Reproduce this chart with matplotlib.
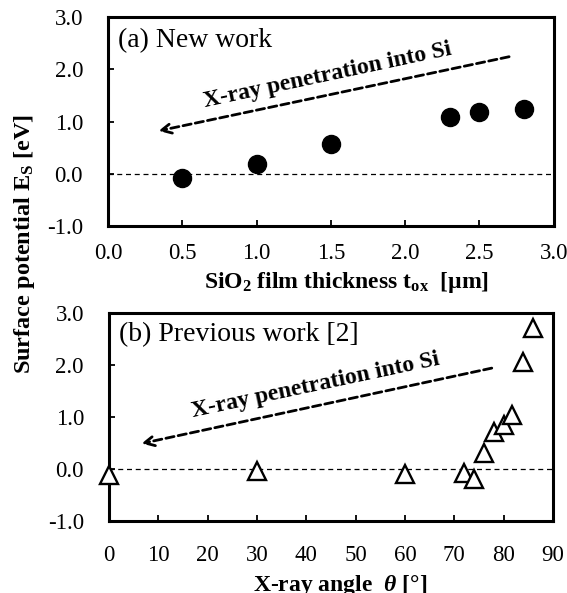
import matplotlib
matplotlib.use("Agg")
import matplotlib.pyplot as plt

plt.rcParams['font.family'] = ['Liberation Serif', 'DejaVu Serif']
plt.rcParams['mathtext.fontset'] = 'custom'
plt.rcParams['mathtext.rm'] = 'Liberation Serif:bold'
plt.rcParams['mathtext.it'] = 'Liberation Serif:bold:italic'
plt.rcParams['mathtext.bf'] = 'Liberation Serif:bold'

# (a) new work: SiO2 thickness vs surface potential
tox = [0.5, 1.0, 1.5, 2.3, 2.5, 2.8]
es_new = [-0.09, 0.18, 0.56, 1.09, 1.18, 1.23]

# (b) previous work [2]: x-ray angle vs surface potential
theta = [0, 30, 60, 72, 74, 76, 78, 80, 81.7, 84, 86]
es_prev = [-0.12, -0.04, -0.1, -0.07, -0.19, 0.31, 0.71, 0.85, 1.03, 2.05, 2.72]

yticks = [-1.0, 0.0, 1.0, 2.0, 3.0]
ytick_labels = ['-1.0', '0.0', '1.0', '2.0', '3.0']
xticks_a = [0.0, 0.5, 1.0, 1.5, 2.0, 2.5, 3.0]
xtick_labels_a = ['0.0', '0.5', '1.0', '1.5', '2.0', '2.5', '3.0']
xticks_b = [0, 10, 20, 30, 40, 50, 60, 70, 80, 90]

fig = plt.figure(figsize=(5.67, 5.93), dpi=100)
ax1 = fig.add_axes([0.1905, 0.6189, 0.786, 0.3524])
ax2 = fig.add_axes([0.1922, 0.1214, 0.783, 0.3508])

fs = 16.5

for ax in (ax1, ax2):
    ax.set_ylim(-1, 3)
    ax.set_yticks(yticks)
    ax.set_yticklabels(ytick_labels, fontsize=fs)
    ax.axhline(0, color='black', lw=0.9, ls=(0, (4, 3)), zorder=1)
    for s in ax.spines.values():
        s.set_linewidth(2.2)
    ax.tick_params(direction='in', length=4, width=1.3, labelsize=fs)
    ax.tick_params(axis='y', pad=18)

# top panel
ax1.set_xlim(0, 3)
ax1.set_xticks(xticks_a)
ax1.set_xticklabels(xtick_labels_a)
ax1.tick_params(axis='x', pad=12)
ax1.plot(tox, es_new, 'o', color='black', ms=13, zorder=3, clip_on=False)
ax1.set_xlabel(r'SiO$_2$ film thickness t$_\mathrm{ox}$  [µm]', fontsize=17, fontweight='bold')
ax1.xaxis.set_label_coords(0.534, -0.21)
ax1.text(0.022, 0.947, '(a) New work', transform=ax1.transAxes, fontsize=20, va='top', ha='left')
ax1.annotate('', xy=(0.34, 0.82), xytext=(2.70, 2.24),
             arrowprops=dict(arrowstyle='->', lw=2.0, ls=(0, (3.0, 1.5)), color='black',
                             mutation_scale=18, shrinkA=0, shrinkB=0))
ax1.text(1.48, 1.88, 'X-ray penetration into Si', fontsize=17, fontweight='bold',
         rotation=12, ha='center', va='center', rotation_mode='anchor')

# bottom panel
ax2.set_xlim(0, 90)
ax2.set_xticks(xticks_b)
ax2.tick_params(axis='x', pad=17)
ax2.plot(theta, es_prev, '^', mfc='white', mec='black', mew=1.7, ms=13, zorder=3, clip_on=False)
ax2.set_xlabel(r'X-ray angle  $\theta$ [°]', fontsize=17, fontweight='bold')
ax2.xaxis.set_label_coords(0.52, -0.25)
ax2.text(0.022, 0.957, '(b) Previous work [2]', transform=ax2.transAxes, fontsize=20, va='top', ha='left')
ax2.annotate('', xy=(6.6, 0.49), xytext=(77.6, 1.94),
             arrowprops=dict(arrowstyle='->', lw=2.0, ls=(0, (3.0, 1.5)), color='black',
                             mutation_scale=18, shrinkA=0, shrinkB=0))
ax2.text(41.8, 1.6, 'X-ray penetration into Si', fontsize=17, fontweight='bold',
         rotation=12, ha='center', va='center', rotation_mode='anchor')

fig.text(25 / 567, 1 - 244 / 593, r'Surface potential E$_\mathrm{S}$ [eV]', rotation=90,
         fontsize=17.5, fontweight='bold', ha='center', va='center')

fig.savefig('out.png', dpi=100)
